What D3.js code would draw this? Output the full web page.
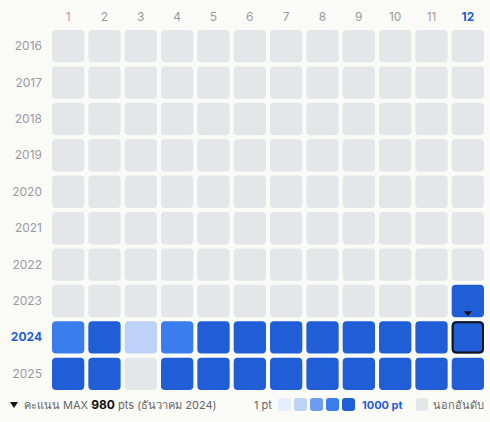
<!DOCTYPE html>
<html><head><meta charset="utf-8">
<script src="https://cdn.jsdelivr.net/npm/d3@7"></script>
<style>body{margin:0;background:#fafaf7;font-family:Inter,"Noto Sans",sans-serif}</style>
</head><body><svg id="c" width="490" height="422"></svg>
<script>
const months = [1,2,3,4,5,6,7,8,9,10,11,12];
const years = [2016,2017,2018,2019,2020,2021,2022,2023,2024,2025];
// points per month, null = out of ranking
const v2023 = [null,null,null,null,null,null,null,null,null,null,null,900];
const v2024 = [650,880,300,640,900,910,870,890,920,900,880,980];
const v2025 = [870,860,null,880,900,910,890,920,900,880,870,900];
const legendColors = ["#e6eefc","#bcd3f7","#6b9cee","#3a7ded","#1f5ed6"];

const svg = d3.select("#c");
const x = d3.scaleBand().domain(months).range([52,484]).paddingInner(4/36).paddingOuter(0);
const y = d3.scaleBand().domain(years).range([30,390]).paddingInner(4/36).paddingOuter(0);
const color = d3.scaleThreshold().domain([200,400,600,800]).range(legendColors);

const rows = {2023:v2023,2024:v2024,2025:v2025};
const cells = [];
years.forEach(yr => months.forEach((m,i) => cells.push({yr,m,v: rows[yr] ? rows[yr][i] : null})));

svg.selectAll("rect.cell").data(cells).join("rect")
  .attr("x",d=>x(d.m)).attr("y",d=>y(d.yr))
  .attr("width",x.bandwidth()).attr("height",y.bandwidth()).attr("rx",4)
  .attr("fill",d=>d.v==null?"#e5e6ea":color(d.v));

// highlight max
svg.append("rect").attr("x",x(12)+1).attr("y",y(2024)+1)
  .attr("width",x.bandwidth()-2).attr("height",y.bandwidth()-2).attr("rx",4)
  .attr("fill","none").attr("stroke","#111").attr("stroke-width",2);
const tx = x(12)+x.bandwidth()/2, ty = y(2024)-7;
svg.append("path").attr("d",`M${tx-4},${ty-3}L${tx+4},${ty-3}L${tx},${ty+2}Z`).attr("fill","#111");

svg.selectAll("text.m").data(months).join("text")
  .attr("x",d=>x(d)+x.bandwidth()/2).attr("y",21).attr("text-anchor","middle")
  .attr("font-size",12).attr("font-weight",d=>d===12?700:400)
  .attr("fill",d=>d===12?"#1f5ed6":(d===1||d===11?"#b59a9a":"#9a9aa2")).text(d=>d);
svg.selectAll("text.y").data(years).join("text")
  .attr("x",42).attr("y",d=>y(d)+y.bandwidth()/2+4).attr("text-anchor","end")
  .attr("font-size",12).attr("font-weight",d=>d===2024?700:400)
  .attr("fill",d=>d===2024?"#1f5ed6":"#9a9aa2").text(d=>d);

// footer
svg.append("path").attr("d","M10,402L18,402L14,408Z").attr("fill","#111");
const ft = svg.append("text").attr("x",24).attr("y",409).attr("font-size",11).attr("fill","#666");
ft.append("tspan").text("คะแนน MAX ");
ft.append("tspan").attr("font-weight",700).attr("fill","#111").attr("font-size",12).text("980");
ft.append("tspan").text(" pts (ธันวาคม 2024)");
svg.append("text").attr("x",254).attr("y",409).attr("font-size",11).attr("fill","#666").text("1 pt");
svg.selectAll("rect.lg").data(legendColors).join("rect")
  .attr("x",(d,i)=>278+i*16).attr("y",398).attr("width",13).attr("height",13).attr("rx",3).attr("fill",d=>d);
svg.append("text").attr("x",362).attr("y",409).attr("font-size",11).attr("font-weight",700).attr("fill","#1f5ed6").text("1000 pt");
svg.append("rect").attr("x",416).attr("y",398).attr("width",12).attr("height",13).attr("rx",3).attr("fill","#e5e6ea");
svg.append("text").attr("x",433).attr("y",409).attr("font-size",11).attr("fill","#666").text("นอกอันดับ");
</script></body></html>
